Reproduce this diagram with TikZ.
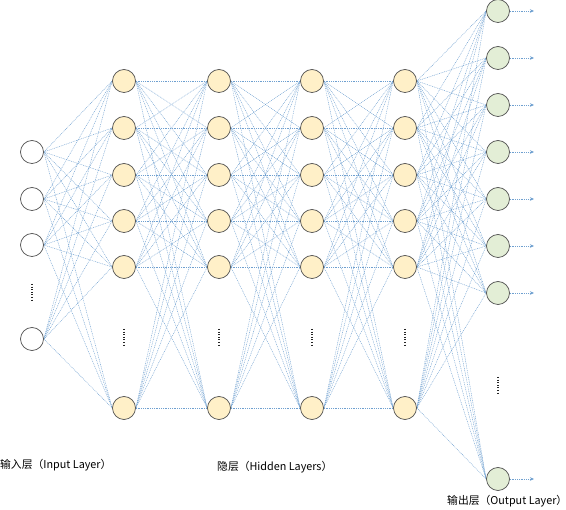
\documentclass[tikz,border=0pt]{standalone}
\usepackage{fontspec}
\setmainfont{Noto Sans CJK SC}
\usetikzlibrary{arrows.meta}
\definecolor{edgeblue}{HTML}{6FA0D0}
\definecolor{hidfill}{HTML}{FFF0C8}
\definecolor{outfill}{HTML}{E3EED6}
\definecolor{ring}{HTML}{505050}
\pgfdeclarelayer{bg}
\pgfsetlayers{bg,main}
\tikzset{
  neuron/.style={circle,draw=ring,line width=0.7pt,minimum size=23pt,inner sep=0pt},
  innode/.style={neuron,fill=white},
  hidnode/.style={neuron,fill=hidfill},
  outnode/.style={neuron,fill=outfill},
  link/.style={draw=edgeblue,line width=0.45pt,dash pattern=on 0.9pt off 0.9pt},
  outarrow/.style={link,-{Stealth[length=4pt,width=3.5pt]}},
  vdots/.style={draw=black!85,line width=1.3pt,dash pattern=on 1pt off 1.6pt},
  lbl/.style={font=\fontsize{10.8}{13}\selectfont,inner sep=0pt,anchor=west}
}
\begin{document}
\begin{tikzpicture}[x=1pt,y=-1pt]
\useasboundingbox (0,0) rectangle (566,510);
% input layer
\foreach \i/\y in {1/152,2/199,3/245,4/339} \node[innode] (i\i) at (32,\y) {};
% hidden layers
\foreach \l/\x in {1/124,2/219,3/312,4/405}{
  \foreach \j/\y in {1/81,2/128,3/175,4/221,5/267,6/408}
    \node[hidnode] (h\l-\j) at (\x,\y) {};
}
% output layer
\foreach \k/\y in {1/11,2/58,3/105,4/152,5/199,6/246,7/293,8/479}
  \node[outnode] (o\k) at (498,\y) {};
% connections
\begin{pgfonlayer}{bg}
\foreach \a in {1,...,4}
  \foreach \b in {1,...,6}
    \draw[link] (i\a.east) -- (h1-\b.west);
\foreach \l/\m in {1/2,2/3,3/4}
  \foreach \a in {1,...,6}
    \foreach \b in {1,...,6}
      \draw[link] (h\l-\a.east) -- (h\m-\b.west);
\foreach \a in {1,...,6}
  \foreach \b in {1,...,8}
    \draw[link] (h4-\a.east) -- (o\b.west);
\end{pgfonlayer}
% output arrows
\foreach \k/\y in {1/11,2/58,3/105,4/152,5/199,6/246,7/293,8/479}{
  \coordinate (e\k) at (534,\y);
  \draw[outarrow] (o\k) -- (e\k);
}
% dots
\coordinate (d0a) at (32,284); \coordinate (d0b) at (32,301);
\draw[vdots] (d0a) -- (d0b);
\foreach \l/\x in {1/124,2/219,3/312,4/405}{
  \coordinate (d\l a) at (\x,329); \coordinate (d\l b) at (\x,346);
  \draw[vdots] (d\l a) -- (d\l b);
}
\coordinate (d5a) at (498,377); \coordinate (d5b) at (498,394);
\draw[vdots] (d5a) -- (d5b);
% labels
\node[lbl] (lin) at (0,465) {输入层（Input Layer）};
\node[lbl] (lhid) at (217,467) {隐层（Hidden Layers）};
\node[lbl] (lout) at (447,501) {输出层（Output Layer）};
\end{tikzpicture}
\end{document}
